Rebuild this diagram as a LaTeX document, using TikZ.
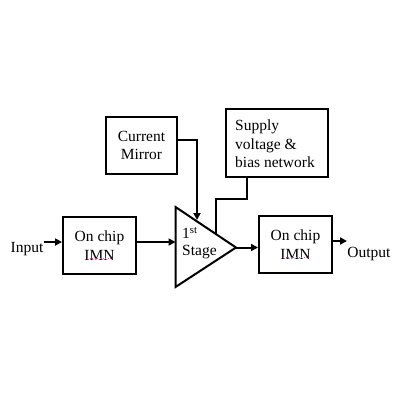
\documentclass[tikz,border=0pt]{standalone}
\usepackage{fontspec}
\setmainfont{Liberation Serif}
\usetikzlibrary{arrows.meta}
\begin{document}
\begin{tikzpicture}[x=1pt,y=-1pt,
  blk/.style={draw,line width=2pt,inner sep=0pt},
  lbl/.style={font=\fontsize{15.5}{18.5}\selectfont,align=center,inner sep=0pt},
  conn/.style={line width=2pt,-{Triangle[length=7pt,width=7pt]}},
  wire/.style={line width=2pt}]
\useasboundingbox (0,0) rectangle (400,400);
% boxes
\node[blk,minimum width=71pt,minimum height=57pt] (cm) at (141.5,145.5) {};
\node[lbl] (cmt) at (cm.center) {Current\\Mirror};
\node[blk,minimum width=102pt,minimum height=68pt] (sv) at (277,143) {};
\node[lbl,align=left,anchor=west] (svt) at (235,144) {Supply\\voltage \&\\bias network};
\node[blk,minimum width=73pt,minimum height=57pt] (imn1) at (99.5,245.5) {};
\node[lbl] (imn1t) at (imn1.center) {On chip\\IMN};
\node[blk,minimum width=73pt,minimum height=57pt] (imn2) at (295.5,244.5) {};
\node[lbl] (imn2t) at (imn2.center) {On chip\\IMN};
\draw[magenta!70,dotted,line width=0.6pt] (87,258) -- (112,258);
\draw[magenta!70,dotted,line width=0.6pt] (283,257) -- (308,257);
% amplifier
\coordinate (ta) at (175.5,207);
\coordinate (tb) at (175.5,287);
\coordinate (tip) at (236,247.5);
\draw[wire,line join=miter] (ta) -- (tip) -- (tb) -- cycle;
\node[lbl,anchor=west] (st1) at (182,233) {1\textsuperscript{st}};
\node[lbl,anchor=west] (st2) at (182,252) {Stage};
% io labels
\node[lbl] (in) at (27,249) {Input};
\node[lbl] (out) at (369,254) {Output};
\coordinate (inend) at (44,242);
\coordinate (outend) at (347,241);
\draw[conn] (inend) -- (imn1.west |- inend);
\draw[conn] (imn1.east |- 0,242) -- (175.5,242);
\draw[conn] (tip) -- (imn2.west |- tip);
\draw[conn] (imn2.east |- outend) -- (outend);
% current mirror feed
\coordinate (cmv) at (197,140);
\coordinate (cmtip) at (197,220);
\draw[conn] (cm.east |- cmv) -- (cmv) -- (cmtip);
% supply feed
\coordinate (s1) at (247,199);
\coordinate (s2) at (216,199);
\coordinate (s3) at (216,234);
\draw[wire] (sv.south -| s1) -- (s1) -- (s2) -- (s3);
\end{tikzpicture}
\end{document}
